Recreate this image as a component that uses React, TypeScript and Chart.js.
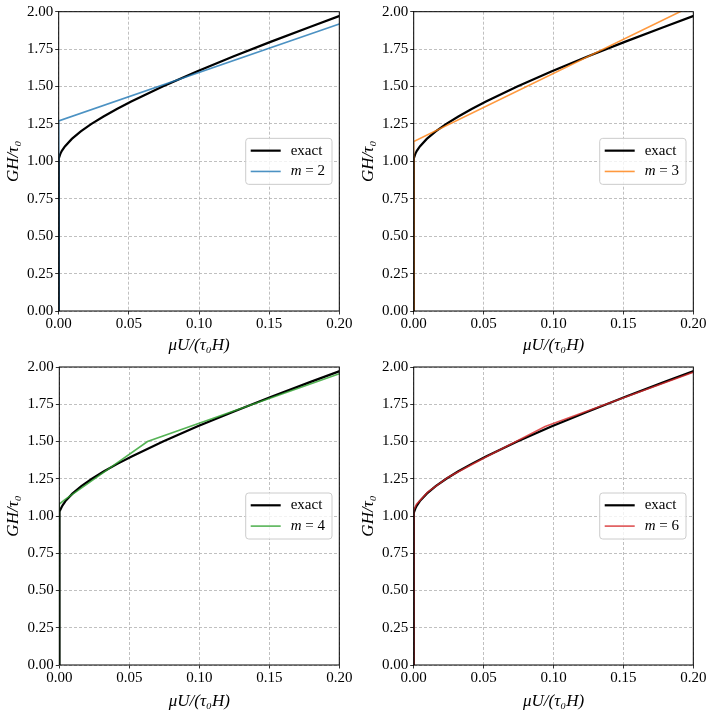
import React, { useEffect, useRef } from "react";
import { Chart, registerables } from "chart.js";

Chart.register(...registerables);

// exact solution (x = muU/(tau0 H), y = GH/tau0)
const exactX = [0, 0, 0.00005, 0.000195, 0.000432, 0.001172, 0.00224, 0.004408, 0.009357, 0.015741, 0.023333, 0.031953, 0.041449, 0.051701, 0.074074, 0.098438, 0.124337, 0.15144, 0.179501, 0.202513];
const exactY = [0, 1.0, 1.01, 1.02, 1.03, 1.05, 1.07, 1.1, 1.15, 1.2, 1.25, 1.3, 1.35, 1.4, 1.5, 1.6, 1.7, 1.8, 1.9, 1.98];

// approximations
const m2X = [0, 0, 0.2];
const m2Y = [0, 1.27, 1.918];
const m3X = [0, 0, 0.2];
const m3Y = [0, 1.133, 2.043];
const m4X = [0, 0, 0.004, 0.063, 0.2];
const m4Y = [0, 1.08, 1.11, 1.5, 1.955];
const m6X = [0, 0, 0.002, 0.01, 0.025, 0.05, 0.094, 0.2];
const m6Y = [0, 1.04, 1.08, 1.16, 1.262, 1.388, 1.6, 1.965];

const xTicks = [0, 0.05, 0.1, 0.15, 0.2];
const yTicks = [0, 0.25, 0.5, 0.75, 1.0, 1.25, 1.5, 1.75, 2.0];

const panels = [
  { label: "m = 2", xs: m2X, ys: m2Y, color: "rgba(31,119,180,0.8)", left: 0, top: 0, yW: 58.7, xH: 45, padTop: 11.7, padRight: 16.7, yTitlePad: 3.1, xTitlePad: 4.8 },
  { label: "m = 3", xs: m3X, ys: m3Y, color: "rgba(255,127,14,0.8)", left: 356, top: 0, yW: 57.7, xH: 45, padTop: 11.7, padRight: 18.7, yTitlePad: 2.1, xTitlePad: 4.8 },
  { label: "m = 4", xs: m4X, ys: m4Y, color: "rgba(44,160,44,0.8)", left: 0, top: 356, yW: 59.3, xH: 47, padTop: 10.7, padRight: 16.7, yTitlePad: 3.1, xTitlePad: 6 },
  { label: "m = 6", xs: m6X, ys: m6Y, color: "rgba(214,39,40,0.8)", left: 356, top: 356, yW: 57.7, xH: 47, padTop: 10.7, padRight: 18.7, yTitlePad: 2.1, xTitlePad: 6 },
];

const FONT = "'Liberation Serif', 'DejaVu Serif', serif";

const toPoints = (xs: number[], ys: number[]) => xs.map((x, i) => ({ x, y: ys[i] }));

// axes frame (all four spines) + legend at center right inside the axes
const frameLegend = {
  id: "frameLegend",
  afterDatasetsDraw(chart: any) {
    const { ctx, chartArea: a } = chart;
    ctx.save();
    ctx.strokeStyle = "#000";
    ctx.lineWidth = 1;
    ctx.setLineDash([]);
    ctx.strokeRect(a.left, a.top, a.right - a.left, a.bottom - a.top);

    const sets = chart.data.datasets;
    const up = `15px ${FONT}`;
    const it = `italic 15px ${FONT}`;
    const widthOf = (lbl: string) => {
      if (lbl.startsWith("m ")) {
        ctx.font = it;
        const w1 = ctx.measureText("m").width;
        ctx.font = up;
        return w1 + ctx.measureText(lbl.slice(1)).width;
      }
      ctx.font = up;
      return ctx.measureText(lbl).width;
    };
    const textW = Math.max(...sets.map((d: any) => widthOf(d.label)));
    const boxW = 5 + 30 + 10 + textW + 7;
    const boxH = 46;
    const bx = a.right - 7.3 - boxW;
    const by = (a.top + a.bottom) / 2 - boxH / 2;
    ctx.fillStyle = "rgba(255,255,255,0.8)";
    ctx.strokeStyle = "#cccccc";
    ctx.beginPath();
    ctx.roundRect(bx, by, boxW, boxH, 3);
    ctx.fill();
    ctx.stroke();

    sets.forEach((d: any, i: number) => {
      const cy = by + 12.3 + i * 20.8;
      ctx.strokeStyle = d.borderColor;
      ctx.lineWidth = d.borderWidth;
      ctx.beginPath();
      ctx.moveTo(bx + 5, cy);
      ctx.lineTo(bx + 35, cy);
      ctx.stroke();
      ctx.fillStyle = "#000";
      ctx.textBaseline = "middle";
      ctx.textAlign = "left";
      let tx = bx + 45;
      const lbl: string = d.label;
      if (lbl.startsWith("m ")) {
        ctx.font = it;
        ctx.fillText("m", tx, cy);
        tx += ctx.measureText("m").width;
        ctx.font = up;
        ctx.fillText(lbl.slice(1), tx, cy);
      } else {
        ctx.font = up;
        ctx.fillText(lbl, tx, cy);
      }
    });
    ctx.restore();
  },
};

type PanelProps = (typeof panels)[number];

const Panel: React.FC<{ p: PanelProps }> = ({ p }) => {
  const canvasRef = useRef<HTMLCanvasElement | null>(null);

  useEffect(() => {
    const ctx = canvasRef.current?.getContext("2d");
    if (!ctx) return;
    const tickFont = { family: FONT, size: 15 };
    const titleFont = { family: FONT, size: 17, style: "italic" as const };
    const grid = {
      color: "#b0b0b0",
      lineWidth: 0.8,
      tickColor: "#000",
      tickLength: 3.5,
      tickWidth: 0.8,
    };
    const chart = new Chart(ctx, {
      type: "scatter",
      data: {
        datasets: [
          {
            label: "exact",
            data: toPoints(exactX, exactY),
            showLine: true,
            borderColor: "#000",
            backgroundColor: "#000",
            borderWidth: 2.2,
            pointRadius: 0,
            clip: 0,
            order: 2,
          },
          {
            label: p.label,
            data: toPoints(p.xs, p.ys),
            showLine: true,
            borderColor: p.color,
            backgroundColor: p.color,
            borderWidth: 1.6,
            pointRadius: 0,
            clip: 0,
            order: 1,
          },
        ],
      },
      options: {
        animation: false,
        responsive: false,
        events: [],
        layout: { padding: { left: 0, top: p.padTop, right: p.padRight, bottom: 0 } },
        plugins: {
          legend: { display: false },
          tooltip: { enabled: false },
        },
        scales: {
          x: {
            type: "linear",
            min: 0,
            max: 0.2,
            afterBuildTicks: (scale: any) => {
              scale.ticks = xTicks.map((v) => ({ value: v }));
            },
            afterFit: (scale: any) => {
              scale.height = p.xH;
            },
            ticks: {
              color: "#000",
              font: tickFont,
              padding: 0.5,
              maxRotation: 0,
              callback: (v: any) => Number(v).toFixed(2),
            },
            grid,
            border: { display: false, dash: [3, 2] },
            title: {
              display: true,
              text: "μU/(τ₀H)",
              color: "#000",
              font: titleFont,
              padding: { top: p.xTitlePad, bottom: 0 },
            },
          },
          y: {
            type: "linear",
            min: 0,
            max: 2,
            afterBuildTicks: (scale: any) => {
              scale.ticks = yTicks.map((v) => ({ value: v }));
            },
            afterFit: (scale: any) => {
              scale.width = p.yW;
            },
            ticks: {
              color: "#000",
              font: tickFont,
              padding: 2,
              callback: (v: any) => Number(v).toFixed(2),
            },
            grid,
            border: { display: false, dash: [3, 2] },
            title: {
              display: true,
              text: "GH/τ₀",
              color: "#000",
              font: titleFont,
              padding: { top: p.yTitlePad, bottom: 0 },
            },
          },
        },
      },
      plugins: [frameLegend],
    });
    return () => chart.destroy();
  }, [p]);

  return (
    <div style={{ position: "absolute", left: p.left, top: p.top, width: 356, height: 356 }}>
      <canvas ref={canvasRef} width={356} height={356} style={{ width: 356, height: 356, display: "block" }} />
    </div>
  );
};

export default function App() {
  return (
    <div style={{ position: "fixed", left: 0, top: 0, width: 712, height: 712, background: "#fff" }}>
      {panels.map((p) => (
        <Panel key={p.label} p={p} />
      ))}
    </div>
  );
}
